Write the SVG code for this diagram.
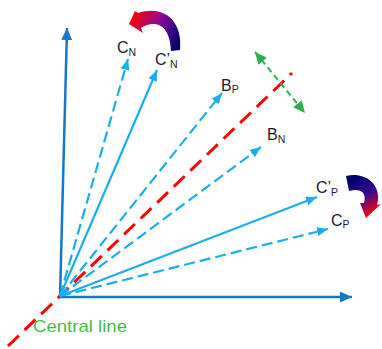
<svg xmlns="http://www.w3.org/2000/svg" width="382" height="349" viewBox="0 0 382 349">
<style>
.axis{stroke:#1878c8;stroke-width:2.5;fill:none}
.vec{stroke:#1aaeea;stroke-width:2.2;fill:none}
.dash{stroke-dasharray:11 5}
.central{stroke:#ff0000;stroke-width:3;stroke-dasharray:15 8;fill:none}
.green{stroke:#2db04f;stroke-width:2;stroke-dasharray:6 4;fill:none}
.lbl{font-family:"Liberation Sans",Arial,sans-serif;font-size:16px;fill:#1c1c2c}
.sub{font-size:10.5px}
.cl{font-family:"Liberation Sans",Arial,sans-serif;font-size:17px;fill:#3cbf4a}
</style>
<defs>
<marker id="ah" markerUnits="userSpaceOnUse" markerWidth="12" markerHeight="10" refX="11" refY="4.5" orient="auto"><path d="M0,0 L11,4.5 L0,9 z" fill="#1aaeea"/></marker>
<marker id="ax" markerUnits="userSpaceOnUse" markerWidth="13" markerHeight="12" refX="12" refY="5.5" orient="auto"><path d="M0,0 L12,5.5 L0,11 z" fill="#1878c8"/></marker>
<marker id="ga" markerUnits="userSpaceOnUse" markerWidth="13" markerHeight="12" refX="12" refY="5.5" orient="auto-start-reverse"><path d="M0,0 L12,5.5 L0,11 z" fill="#2db04f"/></marker>
<linearGradient id="g1" x1="130" y1="22" x2="178" y2="45" gradientUnits="userSpaceOnUse"><stop offset="0" stop-color="#ff0000"/><stop offset="0.5" stop-color="#8a0a9a"/><stop offset="1" stop-color="#000070"/></linearGradient>
<linearGradient id="g2" x1="348" y1="182" x2="368" y2="217" gradientUnits="userSpaceOnUse"><stop offset="0" stop-color="#000070"/><stop offset="0.5" stop-color="#3a0a90"/><stop offset="1" stop-color="#ff0000"/></linearGradient>
</defs>
<g id="connectors">
<line class="central" x1="8" y1="346" x2="292" y2="73"/>
<line class="axis" x1="60" y1="297" x2="67" y2="28" marker-end="url(#ax)"/>
<line class="axis" x1="60" y1="297" x2="352" y2="297" marker-end="url(#ax)"/>
<line class="vec dash" x1="60" y1="296" x2="128" y2="59" marker-end="url(#ah)"/>
<line class="vec" x1="60" y1="296" x2="157" y2="70" marker-end="url(#ah)"/>
<line class="vec dash" x1="60" y1="296" x2="222" y2="93" marker-end="url(#ah)"/>
<line class="vec dash" x1="60" y1="296" x2="261" y2="147" marker-end="url(#ah)"/>
<line class="vec" x1="60" y1="296" x2="317" y2="197" marker-end="url(#ah)"/>
<line class="vec dash" x1="60" y1="296" x2="328" y2="229" marker-end="url(#ah)"/>
<line class="green" x1="255" y1="52" x2="305" y2="113" marker-start="url(#ga)" marker-end="url(#ga)"/>
<path d="M171,51 L180,50 C183,22 165,4 138,13 L135,11 L129,24 L143,33 L141,28 C153,20 170,22 171,51 Z" fill="url(#g1)"/>
<path d="M346,176 L349,191 C360,188 367,192 364,203 L360,203 L366,218 L381,204 L377,205 C383,185 365,171 346,176 Z" fill="url(#g2)"/>
</g>
<g id="CN"><text class="lbl" x="117" y="53">C<tspan class="sub" dy="3">N</tspan></text></g>
<g id="CpN"><text class="lbl" x="155" y="65">C’<tspan class="sub" dy="3">N</tspan></text></g>
<g id="BP"><text class="lbl" x="221" y="91">B<tspan class="sub" dy="2">P</tspan></text></g>
<g id="BN"><text class="lbl" x="267" y="140">B<tspan class="sub" dy="3">N</tspan></text></g>
<g id="CpP"><text class="lbl" x="316" y="193">C’<tspan class="sub" dy="3">P</tspan></text></g>
<g id="CP"><text class="lbl" x="331" y="226">C<tspan class="sub" dy="2">P</tspan></text></g>
<g id="central-label"><text class="cl" x="33" y="332" textLength="94" lengthAdjust="spacingAndGlyphs">Central line</text></g>
</svg>
